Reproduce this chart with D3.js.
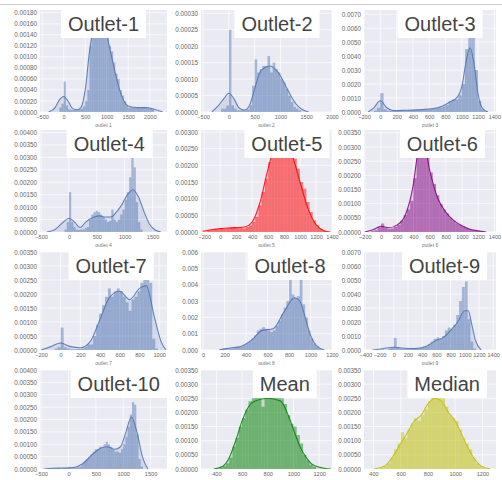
<!DOCTYPE html>
<html>
<head>
<meta charset="utf-8">
<script src="https://cdnjs.cloudflare.com/ajax/libs/d3/7.8.5/d3.min.js"></script>
<style>
  body { margin: 0; background: #fff; }
  svg { display: block; font-family: "Liberation Sans", Arial, sans-serif; }
  .tick text { fill: #666; font-size: 6.3px; }
  .xaxis .tick text { font-size: 5.6px; }
</style>
</head>
<body>
<svg width="502" height="480"></svg>
<script>
// panel titles and axis names
const titles = ["Outlet-1", "Outlet-2", "Outlet-3", "Outlet-4", "Outlet-5", "Outlet-6",
  "Outlet-7", "Outlet-8", "Outlet-9", "Outlet-10", "Mean", "Median"];
const xNames = ["outlet 1", "outlet 2", "outlet 3", "outlet 4", "outlet 5", "outlet 6",
  "outlet 7", "outlet 8", "outlet 9", "outlet 10", "mean", "median"];
const colors = ["#4C72B0", "#4C72B0", "#4C72B0", "#4C72B0", "#FF0000", "#800080",
  "#4C72B0", "#4C72B0", "#4C72B0", "#4C72B0", "#008000", "#BFBF00"];

// x limits and ticks
const xDomains = [[-550, 2400], [-540, 2000], [-200, 1420], [-520, 1760], [-240, 1400], [-210, 1420],
  [-210, 1080], [-20, 1200], [-420, 1440], [-520, 1800], [280, 1300], [330, 1300]];
const xTicks = [
  [-500, 0, 500, 1000, 1500, 2000],
  [-500, 0, 500, 1000, 1500, 2000],
  [-200, 0, 200, 400, 600, 800, 1000, 1200, 1400],
  [-500, 0, 500, 1000, 1500],
  [-200, 0, 200, 400, 600, 800, 1000, 1200, 1400],
  [-200, 0, 200, 400, 600, 800, 1000, 1200, 1400],
  [-200, 0, 200, 400, 600, 800, 1000],
  [0, 200, 400, 600, 800, 1000, 1200],
  [-400, -200, 0, 200, 400, 600, 800, 1000, 1200, 1400],
  [-500, 0, 500, 1000, 1500],
  [400, 600, 800, 1000, 1200],
  [400, 600, 800, 1000, 1200]
];

// y limits, tick step and label decimals
const yMaxes = [0.00185, 0.00031, 0.0073, 0.0041, 0.00306, 0.0036, 0.0035, 0.006, 0.007, 0.004, 0.0035, 0.0035];
const ySteps = [0.0002, 0.00005, 0.001, 0.0005, 0.0005, 0.0005, 0.0005, 0.001, 0.001, 0.0005, 0.0005, 0.0005];
const yDecimals = [5, 5, 4, 5, 5, 5, 5, 3, 4, 5, 5, 5];

// histogram: first bin edge, bin width, density of each bin
const histStart = [-100, -150, -80, -80, -160, -120, -60, 150, -80, -400, 425, 450];
const histWidth = [50, 50, 40, 40, 40, 40, 30, 25, 40, 40, 25, 25];
const histHeights = [
  [0.00008, 0.00015, 0.00055, 0.00012, 0.00005, 0.00004, 0.00004, 0.00005, 0.00004, 0.00005, 0.00006, 0.0001,
   0.0002, 0.0004, 0.0012, 0.0017, 0.0019, 0.0019, 0.002, 0.0019, 0.0019, 0.0018, 0.0015, 0.0012, 0.0011,
   0.0009, 0.0007, 0.0006, 0.0004, 0.0003, 0.0002, 0.00012, 0.00008, 0.00009, 0.00008, 0.00007, 0.00008,
   0.00007, 0.00008, 0.00009, 0.00008, 0.00006, 0.00007, 0.00004],
  [0.00001, 0.00001, 0.00002, 0.00025, 0.00002, 0.00001, 0.000005, 0.000005, 0.000006, 0.000005, 0.000008,
   0.00002, 0.00008, 0.00016, 0.00012, 0.00013, 0.00014, 0.00014, 0.00017, 0.00012, 0.00015, 0.00013,
   0.00012, 0.0001, 0.00009, 0.00007, 0.00005, 0.00003, 0.000015, 0.00001, 0.000005],
  [0.0001, 0.0003, 0.00135, 0.0002, 0.0001, 0.00008, 0.0001, 0.0001, 0.00012, 0.00012, 0.00013, 0.00014,
   0.00015, 0.00016, 0.00017, 0.00018, 0.0002, 0.00022, 0.00025, 0.00028, 0.00032, 0.0004, 0.0005, 0.0008,
   0.0009, 0.0009, 0.0012, 0.002, 0.0045, 0.0056, 0.0056, 0.003, 0.0008, 0.0002, 0.00005],
  [0.0001, 0.0004, 0.0016, 0.0004, 0.0002, 0.0001, 0.00008, 0.0001, 0.0001, 0.00015, 0.0002, 0.0005, 0.0007,
   0.0008, 0.00085, 0.0008, 0.0007, 0.0006, 0.0005, 0.0004, 0.00045, 0.0009, 0.0005, 0.0004, 0.0005, 0.0007,
   0.0009, 0.0013, 0.0016, 0.0022, 0.0031, 0.0026, 0.0012, 0.0004, 0.0001],
  [0.00003, 0.00005, 0.00008, 0.00008, 0.00012, 0.0001, 0.00012, 0.00014, 0.00015, 0.00012, 0.00014, 0.0001,
   0.00015, 0.0002, 0.0003, 0.00045, 0.0008, 0.0012, 0.0016, 0.0021, 0.0026, 0.0028, 0.0029, 0.0029, 0.0027,
   0.0025, 0.0025, 0.0022, 0.0019, 0.0015, 0.0013, 0.0009, 0.0006, 0.00035, 0.0002, 0.0001, 0.00004],
  [0.00003, 0.00006, 0.00015, 0.0003, 0.00015, 0.0001, 0.00012, 0.00018, 0.00025, 0.0004, 0.0006, 0.0008,
   0.0011, 0.0019, 0.0031, 0.0034, 0.0033, 0.0028, 0.0021, 0.0017, 0.0013, 0.001, 0.0008, 0.00065, 0.0005,
   0.0004, 0.0003, 0.00025, 0.0002, 0.00015, 0.0001, 0.00007, 0.00004, 0.00002],
  [0.00005, 0.0001, 0.0008, 0.0001, 0.00005, 0.00003, 0.00003, 0.00003, 0.00004, 0.00005, 0.0001, 0.0002,
   0.0002, 0.0005, 0.0009, 0.0013, 0.0016, 0.0019, 0.0022, 0.0019, 0.0021, 0.0022, 0.0021, 0.0019, 0.0017,
   0.0014, 0.0018, 0.0019, 0.0021, 0.0024, 0.0025, 0.0025, 0.0024, 0.0004, 0.00005],
  [0.00005, 0.0001, 0.00012, 0.00008, 0.0001, 0.00015, 0.0002, 0.00018, 0.0002, 0.0003, 0.0004, 0.0005,
   0.0007, 0.0009, 0.0012, 0.0013, 0.0014, 0.0013, 0.0012, 0.0011, 0.0012, 0.0015, 0.0018, 0.0022, 0.0026,
   0.003, 0.0045, 0.0034, 0.0032, 0.0033, 0.0045, 0.0028, 0.002, 0.0012, 0.0007, 0.0004, 0.0002, 0.0001],
  [0.0001, 0.0002, 0.00086, 0.0002, 0.0001, 0.0001, 0.00012, 0.0001, 0.00012, 0.00013, 0.00012, 0.00015,
   0.0002, 0.00025, 0.0004, 0.0006, 0.0008, 0.0009, 0.0008, 0.001, 0.0014, 0.0016, 0.0015, 0.0018, 0.0025,
   0.0035, 0.0045, 0.0049, 0.0022, 0.0006, 0.0001],
  [0.00002, 0.00003, 0.00002, 0.00003, 0.00003, 0.00004, 0.00003, 0.00004, 0.00004, 0.00005, 0.00008, 0.00005,
   0.00005, 0.00006, 0.00008, 0.0001, 0.0002, 0.0003, 0.0004, 0.0005, 0.0006, 0.0007, 0.0008, 0.0008, 0.0009,
   0.0009, 0.001, 0.0011, 0.001, 0.0009, 0.0008, 0.0007, 0.0007, 0.00065, 0.0008, 0.001, 0.0013, 0.0017,
   0.0022, 0.0027, 0.0026, 0.0014, 0.0004, 0.0001],
  [0.00005, 0.0001, 0.0002, 0.0004, 0.0008, 0.0011, 0.0015, 0.0018, 0.0021, 0.0024, 0.0025, 0.0026, 0.0025,
   0.0022, 0.0026, 0.0027, 0.0026, 0.0026, 0.0027, 0.0025, 0.0023, 0.0019, 0.0016, 0.0015, 0.0012, 0.0009,
   0.0005, 0.0003, 0.00015, 0.00008],
  [0.00005, 0.0001, 0.0002, 0.0004, 0.0007, 0.0009, 0.0013, 0.0011, 0.0014, 0.0016, 0.0018, 0.0017, 0.0019,
   0.0021, 0.0024, 0.0026, 0.0025, 0.0026, 0.0025, 0.0022, 0.0019, 0.0018, 0.0017, 0.0014, 0.0011, 0.0009,
   0.0007, 0.0004, 0.0002, 0.0001, 0.00003]
];

// kernel density estimate, [x, density]
const kdes = [
  [[-350, 0], [-200, 0.00008], [-100, 0.00022], [0, 0.00028], [100, 0.0002], [200, 0.00007], [300, 0.00004],
   [400, 0.00008], [500, 0.0004], [600, 0.0011], [700, 0.00155], [800, 0.0017], [900, 0.00165], [1000, 0.0014],
   [1100, 0.00105], [1200, 0.0007], [1300, 0.0004], [1400, 0.0002], [1500, 0.00011], [1700, 0.00008],
   [1900, 0.00008], [2100, 0.00005], [2300, 0]],
  [[-330, 0], [-200, 0.00002], [-100, 0.00004], [0, 0.000057], [100, 0.00004], [200, 0.000012], [300, 0.000006],
   [400, 0.00002], [500, 0.00007], [600, 0.00012], [700, 0.000135], [800, 0.00014], [900, 0.00013],
   [1000, 0.00011], [1100, 0.00008], [1200, 0.00005], [1300, 0.000025], [1400, 0.00001], [1550, 0]],
  [[-150, 0], [-80, 0.0003], [0, 0.0008], [80, 0.0003], [160, 0.0001], [300, 0.00012], [500, 0.00017],
   [700, 0.0003], [850, 0.0007], [950, 0.0011], [1000, 0.0018], [1050, 0.0035], [1100, 0.0046], [1150, 0.0035],
   [1200, 0.0013], [1250, 0.0003], [1320, 0]],
  [[-400, 0], [-250, 0.0001], [-100, 0.0004], [0, 0.00055], [100, 0.0004], [200, 0.00018], [300, 0.0004],
   [450, 0.0006], [550, 0.00065], [650, 0.0006], [750, 0.0006], [850, 0.0008], [950, 0.0011], [1050, 0.0015],
   [1150, 0.0017], [1250, 0.0014], [1350, 0.0008], [1450, 0.0003], [1550, 0.00008], [1650, 0]],
  [[-220, 0.00002], [-100, 0.00007], [0, 0.0001], [100, 0.00012], [200, 0.00013], [300, 0.00015], [400, 0.0003],
   [500, 0.0009], [600, 0.0019], [700, 0.0026], [800, 0.0026], [900, 0.0023], [1000, 0.0015], [1100, 0.0007],
   [1200, 0.00022], [1300, 0.00004], [1380, 0]],
  [[-200, 0], [-100, 0.00008], [0, 0.0002], [100, 0.00015], [200, 0.00025], [300, 0.0006], [400, 0.0017],
   [450, 0.0027], [500, 0.0031], [550, 0.0029], [600, 0.0022], [700, 0.0012], [800, 0.0007], [900, 0.0004],
   [1000, 0.00022], [1100, 0.0001], [1200, 0.00004], [1300, 0]],
  [[-200, 0], [-100, 0.00012], [0, 0.00025], [100, 0.00012], [200, 0.00008], [300, 0.0003], [400, 0.0011],
   [500, 0.0019], [600, 0.0021], [700, 0.0018], [800, 0.0022], [870, 0.0023], [950, 0.0012], [1020, 0.0003],
   [1070, 0]],
  [[150, 0], [250, 0.00012], [350, 0.00022], [450, 0.0006], [550, 0.0012], [650, 0.0013], [750, 0.0023],
   [850, 0.0032], [900, 0.003], [950, 0.002], [1000, 0.0009], [1050, 0.0003], [1130, 0]],
  [[-300, 0], [-150, 0.0001], [0, 0.0002], [150, 0.00012], [300, 0.0001], [450, 0.00025], [600, 0.0007],
   [700, 0.0009], [800, 0.0014], [900, 0.002], [1000, 0.0028], [1050, 0.0028], [1100, 0.0018], [1150, 0.0007],
   [1230, 0]],
  [[-450, 0], [-300, 0.00003], [-100, 0.00004], [100, 0.00006], [250, 0.0002], [400, 0.0005], [550, 0.0008],
   [700, 0.0009], [850, 0.0008], [950, 0.0009], [1050, 0.0015], [1150, 0.0021], [1250, 0.0015], [1350, 0.0005],
   [1450, 0]],
  [[380, 0], [450, 0.0001], [500, 0.0004], [550, 0.001], [600, 0.0017], [650, 0.0022], [700, 0.0024],
   [800, 0.0025], [900, 0.0024], [950, 0.002], [1000, 0.0014], [1050, 0.0008], [1100, 0.0004], [1150, 0.00015],
   [1250, 0.00002], [1290, 0]],
  [[400, 0], [480, 0.0001], [550, 0.0005], [600, 0.0009], [650, 0.0013], [700, 0.0017], [750, 0.0019],
   [800, 0.0023], [850, 0.0025], [900, 0.0024], [950, 0.002], [1000, 0.0017], [1050, 0.0012], [1100, 0.0007],
   [1150, 0.0003], [1200, 0.00008], [1260, 0]]
];

// grid layout of the 4x3 panels
const cols = [[40, 167], [201, 332], [364, 496]];
const rows = [[10, 112], [130, 232], [252, 350], [370, 469]];
const titleCenter = [0.50, 0.58, 0.576, 0.545, 0.656, 0.594, 0.56, 0.68, 0.61, 0.62, 0.64, 0.63];

const svg = d3.select("svg");

svg.append("line")
    .attr("x1", 0).attr("x2", 502)
    .attr("y1", 4.5).attr("y2", 4.5)
    .attr("stroke", "#cfcfcf")
    .attr("stroke-width", 1);

titles.forEach((title, i) => {
  const c = cols[i % 3], r = rows[Math.floor(i / 3)];
  const x = d3.scaleLinear().domain(xDomains[i]).range(c);
  const y = d3.scaleLinear().domain([0, yMaxes[i]]).range([r[1], r[0]]);
  const yTicks = d3.range(0, Math.floor(yMaxes[i] / ySteps[i] + 1e-6) + 1).map(k => k * ySteps[i]);
  const xT = xTicks[i].filter(v => v >= xDomains[i][0] && v <= xDomains[i][1]);

  const g = svg.append("g");

  g.append("rect")
      .attr("x", c[0]).attr("y", r[0])
      .attr("width", c[1] - c[0]).attr("height", r[1] - r[0])
      .attr("fill", "#EAEAF2");

  // white grid
  g.selectAll(".gx").data(xT).enter().append("line")
      .attr("x1", d => x(d)).attr("x2", d => x(d))
      .attr("y1", r[0]).attr("y2", r[1])
      .attr("stroke", "#fff").attr("stroke-width", 0.7);
  g.selectAll(".gy").data(yTicks).enter().append("line")
      .attr("x1", c[0]).attr("x2", c[1])
      .attr("y1", d => y(d)).attr("y2", d => y(d))
      .attr("stroke", "#fff").attr("stroke-width", 0.7);

  const clipId = "clip" + i;
  g.append("clipPath").attr("id", clipId)
    .append("rect")
      .attr("x", c[0]).attr("y", r[0])
      .attr("width", c[1] - c[0]).attr("height", r[1] - r[0]);

  const plot = g.append("g").attr("clip-path", "url(#" + clipId + ")");

  const bins = histHeights[i].map((h, j) => ({
    x0: histStart[i] + j * histWidth[i],
    x1: histStart[i] + (j + 1) * histWidth[i],
    h: h
  }));

  plot.append("path")
      .datum(kdes[i])
      .attr("fill", colors[i])
      .attr("fill-opacity", 0.15)
      .attr("d", d3.area().x(d => x(d[0])).y0(y(0)).y1(d => y(d[1])).curve(d3.curveMonotoneX));

  plot.selectAll(".bar").data(bins).enter().append("rect")
      .attr("x", d => x(d.x0))
      .attr("width", d => x(d.x1) - x(d.x0))
      .attr("y", d => y(d.h))
      .attr("height", d => y(0) - y(d.h))
      .attr("fill", colors[i])
      .attr("fill-opacity", 0.45);

  plot.append("path")
      .datum(kdes[i])
      .attr("fill", "none")
      .attr("stroke", colors[i])
      .attr("stroke-opacity", 0.85)
      .attr("stroke-width", 1.1)
      .attr("d", d3.line().x(d => x(d[0])).y(d => y(d[1])).curve(d3.curveMonotoneX));

  // axes, ticks only
  g.append("g")
      .attr("transform", "translate(" + c[0] + ",0)")
      .call(d3.axisLeft(y).tickValues(yTicks).tickSize(0).tickPadding(3)
        .tickFormat(d3.format("." + yDecimals[i] + "f")))
      .call(a => a.select(".domain").remove());

  g.append("g")
      .attr("class", "xaxis")
      .attr("transform", "translate(0," + r[1] + ")")
      .call(d3.axisBottom(x).tickValues(xT).tickSize(0).tickPadding(3).tickFormat(d3.format("d")))
      .call(a => a.select(".domain").remove());

  // the bottom row's axis names fall below the picture
  if (r[1] + 15 < 476) {
    g.append("text")
        .attr("x", (c[0] + c[1]) / 2).attr("y", r[1] + 15)
        .attr("text-anchor", "middle")
        .attr("fill", "#777")
        .attr("font-size", 5)
        .text(xNames[i]);
  }

  // title box
  const tx = c[0] + titleCenter[i] * (c[1] - c[0]);
  const box = g.append("rect")
      .attr("y", r[0] - 1)
      .attr("height", 29)
      .attr("fill", "#fff");
  const t = g.append("text")
      .attr("x", tx).attr("y", r[0] + 21)
      .attr("text-anchor", "middle")
      .attr("fill", "#444")
      .attr("font-size", 20)
      .text(title);
  const w = t.node().getComputedTextLength() + 14;
  box.attr("x", tx - w / 2).attr("width", w);
});
</script>
</body>
</html>
